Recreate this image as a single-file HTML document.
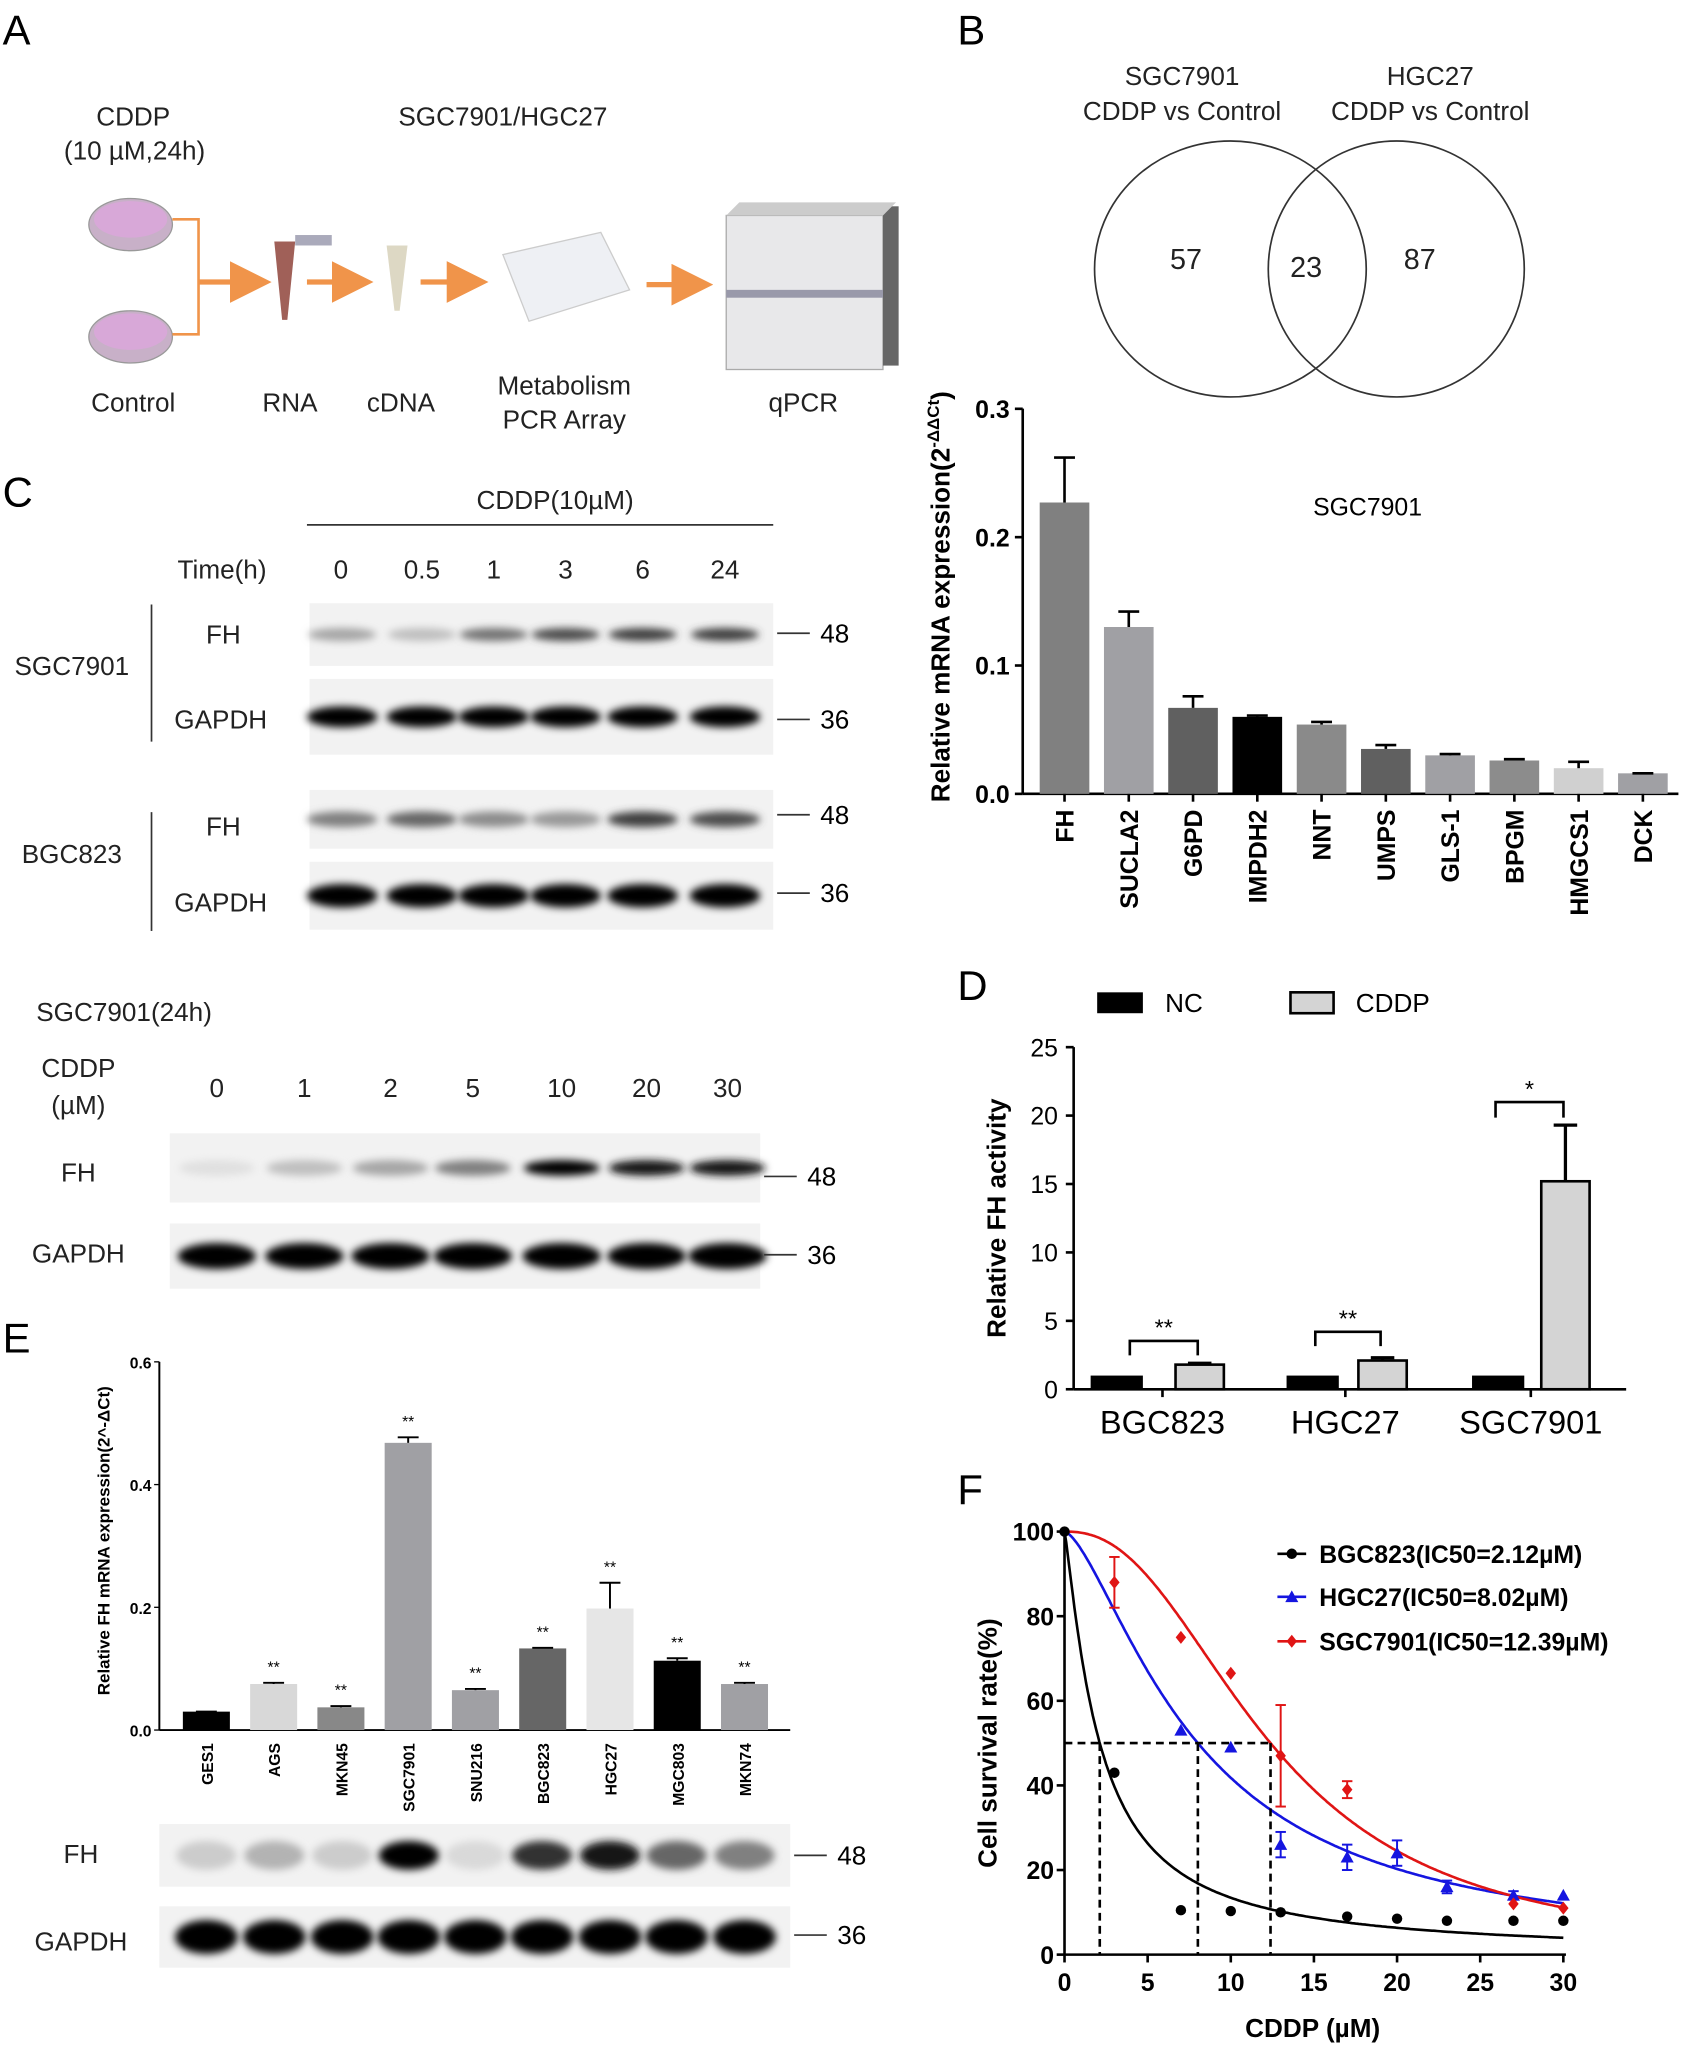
<!DOCTYPE html>
<html><head><meta charset="utf-8">
<style>html,body{margin:0;padding:0;background:#fff}svg{display:block}</style></head>
<body>
<svg id="s" xmlns="http://www.w3.org/2000/svg" width="1698" height="2063" viewBox="0 0 1300 1580" preserveAspectRatio="none" font-family="Liberation Sans, sans-serif">
<defs>
<filter id="bl" x="-20%" y="-100%" width="140%" height="300%"><feGaussianBlur stdDeviation="3"/></filter>
<filter id="bl2" x="-20%" y="-50%" width="140%" height="200%"><feGaussianBlur stdDeviation="1.5"/></filter>
<marker id="ar" markerWidth="8" markerHeight="8" refX="6" refY="4" orient="auto"><path d="M0,0 L8,4 L0,8 z" fill="#f0944a"/></marker>
</defs>
<rect width="1300" height="1580" fill="#fff"/>
<g font-size="32"><text x="2" y="34">A</text><text x="733" y="34">B</text><text x="2" y="388">C</text><text x="733" y="766">D</text><text x="2" y="1036">E</text><text x="733" y="1152">F</text></g>

<!-- Panel A -->
<g font-size="20" text-anchor="middle" fill="#222">
<text x="102" y="96">CDDP</text><text x="103" y="122">(10 µM,24h)</text>
<text x="385" y="96">SGC7901/HGC27</text>
<text x="102" y="315">Control</text><text x="222" y="315">RNA</text><text x="307" y="315">cDNA</text>
<text x="432" y="302">Metabolism</text><text x="432" y="328">PCR Array</text><text x="615" y="315">qPCR</text>
</g>
<g>
<ellipse cx="100" cy="172" rx="32" ry="20" fill="#c8b0c8" stroke="#999"/><ellipse cx="100" cy="168" rx="28" ry="14" fill="#d8a8d8"/>
<ellipse cx="100" cy="258" rx="32" ry="20" fill="#c8b0c8" stroke="#999"/><ellipse cx="100" cy="254" rx="28" ry="14" fill="#d8a8d8"/>
<path d="M132,168 H152 V256 H132" fill="none" stroke="#f0944a" stroke-width="2"/>
<line x1="152" y1="216" x2="200" y2="216" stroke="#f0944a" stroke-width="4" marker-end="url(#ar)"/>
<path d="M210,185 L226,185 L220,245 L216,245 z" fill="#a06058"/><rect x="226" y="180" width="28" height="8" fill="#aab"/>
<line x1="235" y1="216" x2="278" y2="216" stroke="#f0944a" stroke-width="4" marker-end="url(#ar)"/>
<path d="M296,188 L312,188 L306,238 L302,238 z" fill="#ddd8c4"/>
<line x1="322" y1="216" x2="366" y2="216" stroke="#f0944a" stroke-width="4" marker-end="url(#ar)"/>
<path d="M385,195 L460,178 L482,222 L405,246 z" fill="#eef0f4" stroke="#ccc"/>
<line x1="495" y1="218" x2="538" y2="218" stroke="#f0944a" stroke-width="4" marker-end="url(#ar)"/>
<rect x="556" y="165" width="120" height="118" fill="#e8e8ea" stroke="#aaa"/><rect x="676" y="158" width="12" height="122" fill="#666"/>
<path d="M556,165 L566,155 L686,155 L676,165z" fill="#ccc"/><rect x="556" y="222" width="120" height="6" fill="#99a"/>
</g>

<!-- Panel B venn -->
<g font-size="20" text-anchor="middle" fill="#222">
<text x="905" y="65">SGC7901</text><text x="905" y="92">CDDP vs Control</text>
<text x="1095" y="65">HGC27</text><text x="1095" y="92">CDDP vs Control</text>
<text x="908" y="206" font-size="22">57</text><text x="1000" y="212" font-size="22">23</text><text x="1087" y="206" font-size="22">87</text>
</g>
<ellipse cx="942" cy="206" rx="104" ry="98" fill="none" stroke="#333" stroke-width="1.3"/>
<ellipse cx="1069" cy="206" rx="98" ry="98" fill="none" stroke="#333" stroke-width="1.3"/>

<!-- Panel B bars -->
<g id="bB"></g>
<text x="1047" y="395" font-size="19" text-anchor="middle">SGC7901</text>
<text transform="translate(727,457) rotate(-90)" font-size="20" font-weight="bold" text-anchor="middle">Relative mRNA expression(2<tspan dy="-8" font-size="13">-ΔΔCt</tspan><tspan dy="8">)</tspan></text>

<!-- Panel C -->
<g font-size="20" text-anchor="middle" fill="#222">
<text x="425" y="390">CDDP(10µM)</text>
<text x="170" y="443">Time(h)</text>
<text x="261" y="443">0</text><text x="323" y="443">0.5</text><text x="378" y="443">1</text><text x="433" y="443">3</text><text x="492" y="443">6</text><text x="555" y="443">24</text>
<text x="55" y="517">SGC7901</text><text x="171" y="493">FH</text><text x="169" y="558">GAPDH</text>
<text x="55" y="661">BGC823</text><text x="171" y="640">FH</text><text x="169" y="698">GAPDH</text>
<text x="95" y="782">SGC7901(24h)</text><text x="60" y="825">CDDP</text><text x="60" y="853">(µM)</text>
<text x="166" y="840">0</text><text x="233" y="840">1</text><text x="299" y="840">2</text><text x="362" y="840">5</text><text x="430" y="840">10</text><text x="495" y="840">20</text><text x="557" y="840">30</text>
<text x="60" y="905">FH</text><text x="60" y="967">GAPDH</text>
<text x="62" y="1427">FH</text><text x="62" y="1494">GAPDH</text>
</g>
<line x1="235" y1="402" x2="592" y2="402" stroke="#333" stroke-width="1.3"/>
<line x1="116" y1="463" x2="116" y2="568" stroke="#333" stroke-width="1.3"/>
<line x1="116" y1="622" x2="116" y2="713" stroke="#333" stroke-width="1.3"/>
<g id="blots"></g>

<!-- Panel D -->
<rect x="840" y="760" width="35" height="16" fill="#000"/><text x="892" y="775" font-size="20">NC</text>
<rect x="988" y="760" width="33" height="16" fill="#d4d4d4" stroke="#000" stroke-width="2"/><text x="1038" y="775" font-size="20">CDDP</text>
<g id="bD"></g>
<text transform="translate(770,933) rotate(-90)" font-size="20" font-weight="bold" text-anchor="middle">Relative FH activity</text>

<!-- Panel E -->
<g id="bE"></g>
<text transform="translate(84,1180) rotate(-90)" font-size="13" font-weight="bold" text-anchor="middle">Relative FH mRNA expression(2^-ΔCt)</text>

<!-- Panel F -->
<g id="pF"></g>
<text x="1005" y="1560" font-size="20" font-weight="bold" text-anchor="middle">CDDP (µM)</text>
<text transform="translate(763,1335) rotate(-90)" font-size="20" font-weight="bold" text-anchor="middle">Cell survival rate(%)</text>
</svg>
<script>
const NS="http://www.w3.org/2000/svg";
function el(p,t,a,txt){const e=document.createElementNS(NS,t);for(const k in a)e.setAttribute(k,a[k]);if(txt!=null)e.textContent=txt;p.appendChild(e);return e;}
// Panel B bars
(function(){const g=document.getElementById('bB');const x0=783,y0=608,s=983;
el(g,'line',{x1:x0,y1:313,x2:x0,y2:y0,stroke:'#000','stroke-width':2});
el(g,'line',{x1:x0,y1:y0,x2:1285,y2:y0,stroke:'#000','stroke-width':2});
[0,0.1,0.2,0.3].forEach(v=>{const y=y0-v*s;el(g,'line',{x1:x0-6,y1:y,x2:x0,y2:y,stroke:'#000','stroke-width':2});el(g,'text',{x:x0-10,y:y+7,'font-size':19,'font-weight':'bold','text-anchor':'end'},v.toFixed(1));});
const d=[['FH',.227,.262,'#808080'],['SUCLA2',.13,.142,'#a0a0a4'],['G6PD',.067,.076,'#606060'],['IMPDH2',.06,.061,'#000'],['NNT',.054,.056,'#8a8a8a'],['UMPS',.035,.038,'#606060'],['GLS-1',.03,.031,'#a0a0a4'],['BPGM',.026,.027,'#8c8c8c'],['HMGCS1',.02,.025,'#d0d0d0'],['DCK',.016,.016,'#a0a0a4']];
d.forEach((b,i)=>{const cx=815+i*49.2,w=38;el(g,'rect',{x:cx-w/2,y:y0-b[1]*s,width:w,height:b[1]*s,fill:b[3]});
el(g,'line',{x1:cx,y1:y0-b[1]*s,x2:cx,y2:y0-b[2]*s,stroke:'#000','stroke-width':2});el(g,'line',{x1:cx-8,y1:y0-b[2]*s,x2:cx+8,y2:y0-b[2]*s,stroke:'#000','stroke-width':2});
el(g,'line',{x1:cx,y1:y0,x2:cx,y2:y0+6,stroke:'#000','stroke-width':2});
el(g,'text',{transform:`translate(${cx+7},${y0+12}) rotate(-90)`,'font-size':19,'font-weight':'bold','text-anchor':'end'},b[0]);});})();
// blots
(function(){const g=document.getElementById('blots');
function blot(x1,x2,yt,yb,lanes,ints,w,h,mark,my){el(g,'rect',{x:x1,y:yt,width:x2-x1,height:yb-yt,fill:'#f2f2f2'});
const bc=(yt+yb)/2;lanes.forEach((cx,i)=>{const v=ints[i];const c=Math.round(255*(1-v));el(g,'ellipse',{cx:cx,cy:bc,rx:w/2,ry:h/2,fill:`rgb(${c},${c},${c})`,filter:'url(#bl)'});});
el(g,'line',{x1:x2+3,y1:my,x2:x2+28,y2:my,stroke:'#333','stroke-width':1.3});el(g,'text',{x:x2+36,y:my+7,'font-size':20},mark);}
const L1=[262,323,378,433,492,555];
blot(237,592,462,510,L1,[.35,.25,.55,.7,.75,.75],52,10,'48',485);
blot(237,592,520,578,L1,[1,1,1,1,1,1],54,16,'36',551);
blot(237,592,605,650,L1,[.5,.6,.45,.4,.75,.7],54,12,'48',624);
blot(237,592,660,712,L1,[1,1,1,1,1,1],54,18,'36',684);
const L2=[166,233,299,362,430,495,557];
blot(130,582,868,921,L2,[.12,.25,.35,.5,1,.9,.9],58,12,'48',901);
blot(130,582,937,987,L2,[1,1,1,1,1,1,1],60,20,'36',961);
const L3=[158,210,262,313,364,415,467,518,570];
blot(122,605,1397,1445,L3,[.2,.3,.2,1,.15,.8,.9,.6,.5],46,22,'48',1421);
blot(122,605,1460,1507,L3,[1,1,1,1,1,1,1,1,1],48,26,'36',1482);
})();
// Panel D
(function(){const g=document.getElementById('bD');const x0=822,y0=1064,s=10.48;
el(g,'line',{x1:x0,y1:802,x2:x0,y2:y0,stroke:'#000','stroke-width':2});el(g,'line',{x1:x0,y1:y0,x2:1245,y2:y0,stroke:'#000','stroke-width':2});
[0,5,10,15,20,25].forEach(v=>{const y=y0-v*s;el(g,'line',{x1:x0-6,y1:y,x2:x0,y2:y,stroke:'#000','stroke-width':2});el(g,'text',{x:x0-12,y:y+7,'font-size':19,'text-anchor':'end'},v);});
const gr=[['BGC823',890,835,900,1.8,1.9],['HGC27',1030,985,1040,2.1,2.3],['SGC7901',1172,1127,1180,15.2,19.3]];
gr.forEach(b=>{el(g,'rect',{x:b[2],y:y0-s,width:40,height:s,fill:'#000'});
el(g,'rect',{x:b[3],y:y0-b[4]*s,width:37,height:b[4]*s,fill:'#d4d4d4',stroke:'#000','stroke-width':2});
const cx=b[3]+18.5;el(g,'line',{x1:cx,y1:y0-b[4]*s,x2:cx,y2:y0-b[5]*s,stroke:'#000','stroke-width':2.5});el(g,'line',{x1:cx-9,y1:y0-b[5]*s,x2:cx+9,y2:y0-b[5]*s,stroke:'#000','stroke-width':2.5});
el(g,'line',{x1:b[1],y1:y0,x2:b[1],y2:y0+6,stroke:'#000','stroke-width':2});
el(g,'text',{x:b[1],y:1098,'font-size':25,'text-anchor':'middle'},b[0]);});
[[865,917,1027,1038,'**'],[1007,1057,1020,1031,'**'],[1145,1197,844,856,'*']].forEach(k=>{el(g,'path',{d:`M${k[0]},${k[3]} V${k[2]} H${k[1]} V${k[3]}`,fill:'none',stroke:'#000','stroke-width':2});el(g,'text',{x:(k[0]+k[1])/2,y:k[2]-4,'font-size':18,'text-anchor':'middle'},k[4]);});})();
// Panel E
(function(){const g=document.getElementById('bE');const x0=122,y0=1325,s=470;
el(g,'line',{x1:x0,y1:1043,x2:x0,y2:y0,stroke:'#000','stroke-width':1.5});el(g,'line',{x1:x0,y1:y0,x2:605,y2:y0,stroke:'#000','stroke-width':1.5});
[0,.2,.4,.6].forEach(v=>{const y=y0-v*s;el(g,'line',{x1:x0-4,y1:y,x2:x0,y2:y,stroke:'#000'});el(g,'text',{x:x0-6,y:y+5,'font-size':12,'font-weight':'bold','text-anchor':'end'},v.toFixed(1));});
const d=[['GES1',.03,.03,'#000',0],['AGS',.075,.077,'#d8d8d8',1],['MKN45',.037,.039,'#888',1],['SGC7901',.468,.477,'#a0a0a4',1],['SNU216',.065,.067,'#a0a0a4',1],['BGC823',.133,.134,'#666',1],['HGC27',.198,.24,'#e6e6e6',1],['MGC803',.113,.117,'#000',1],['MKN74',.075,.077,'#a0a0a4',1]];
d.forEach((b,i)=>{const cx=158+i*51.5,w=36;el(g,'rect',{x:cx-w/2,y:y0-b[1]*s,width:w,height:b[1]*s,fill:b[3]});
if(b[2]>b[1]+.001){el(g,'line',{x1:cx,y1:y0-b[1]*s,x2:cx,y2:y0-b[2]*s,stroke:'#000','stroke-width':1.5});}
el(g,'line',{x1:cx-8,y1:y0-b[2]*s,x2:cx+8,y2:y0-b[2]*s,stroke:'#000','stroke-width':1.5});
if(b[4])el(g,'text',{x:cx,y:y0-b[2]*s-8,'font-size':12,'text-anchor':'middle'},'**');
el(g,'text',{transform:`translate(${cx+5},${y0+10}) rotate(-90)`,'font-size':12,'font-weight':'bold','text-anchor':'end'},b[0]);});})();
// Panel F
(function(){const g=document.getElementById('pF');const x0=815,y0=1497,sx=12.73,sy=3.24;
const X=v=>x0+v*sx,Y=v=>y0-v*sy;
el(g,'line',{x1:x0,y1:1170,x2:x0,y2:y0,stroke:'#000','stroke-width':2});el(g,'line',{x1:x0,y1:y0,x2:X(30)+2,y2:y0,stroke:'#000','stroke-width':2});
[0,20,40,60,80,100].forEach(v=>{el(g,'line',{x1:x0-6,y1:Y(v),x2:x0,y2:Y(v),stroke:'#000','stroke-width':2});el(g,'text',{x:x0-8,y:Y(v)+7,'font-size':19,'font-weight':'bold','text-anchor':'end'},v);});
[0,5,10,15,20,25,30].forEach(v=>{el(g,'line',{x1:X(v),y1:y0,x2:X(v),y2:y0+6,stroke:'#000','stroke-width':2});el(g,'text',{x:X(v),y:y0+28,'font-size':19,'font-weight':'bold','text-anchor':'middle'},v);});
const cs=[[2.12,1.2,'#000'],[8.02,1.5,'#1515e0'],[12.39,2.35,'#e01515']];
cs.forEach(c=>{let d='';for(let i=0;i<=300;i++){const x=i/10;const y=100/(1+Math.pow(x/c[0],c[1]));d+=(i?'L':'M')+X(x).toFixed(1)+','+Y(y).toFixed(1);}el(g,'path',{d:d,fill:'none',stroke:c[2],'stroke-width':2});});
el(g,'line',{x1:x0,y1:Y(50),x2:X(12.39),y2:Y(50),stroke:'#000','stroke-width':2,'stroke-dasharray':'6,4'});
[2.12,8.02,12.39].forEach(v=>el(g,'line',{x1:X(v),y1:Y(50),x2:X(v),y2:y0,stroke:'#000','stroke-width':2,'stroke-dasharray':'6,4'}));
const bk=[[0,100],[3,43],[7,10.5],[10,10.3],[13,10],[17,9],[20,8.5],[23,8],[27,8],[30,8]];
bk.forEach(p=>el(g,'circle',{cx:X(p[0]),cy:Y(p[1]),r:4,fill:'#000'}));
const bl=[[7,53,0],[10,49,0],[13,26,3],[17,23,3],[20,24,3],[23,16,1.5],[27,14,1],[30,14,0]];
const tri=(x,y,c)=>el(g,'path',{d:`M${x},${y-5} L${x+5},${y+4} L${x-5},${y+4}z`,fill:c});
const eb=(x,y,e,c)=>{if(!e)return;el(g,'line',{x1:x,y1:Y(y+e),x2:x,y2:Y(y-e),stroke:c,'stroke-width':1.5});[y+e,y-e].forEach(v=>el(g,'line',{x1:x-4,y1:Y(v),x2:x+4,y2:Y(v),stroke:c,'stroke-width':1.5}));};
bl.forEach(p=>{eb(X(p[0]),p[1],p[2],'#1515e0');tri(X(p[0]),Y(p[1]),'#1515e0');});
const rd=[[3,88,6],[7,75,0],[10,66.5,0],[13,47,12],[17,39,2],[27,12,0],[30,11,0]];
const dia=(x,y,c)=>el(g,'path',{d:`M${x},${y-5} L${x+4},${y} L${x},${y+5} L${x-4},${y}z`,fill:c});
rd.forEach(p=>{eb(X(p[0]),p[1],p[2],'#e01515');dia(X(p[0]),Y(p[1]),'#e01515');});
const lg=[[1190,'BGC823(IC50=2.12µM)','#000','c'],[1223,'HGC27(IC50=8.02µM)','#1515e0','t'],[1257,'SGC7901(IC50=12.39µM)','#e01515','d']];
lg.forEach(l=>{el(g,'line',{x1:978,y1:l[0],x2:1000,y2:l[0],stroke:l[2],'stroke-width':2});if(l[3]=='c')el(g,'circle',{cx:989,cy:l[0],r:4,fill:l[2]});else if(l[3]=='t')tri(989,l[0],l[2]);else dia(989,l[0],l[2]);
el(g,'text',{x:1010,y:l[0]+7,'font-size':19,'font-weight':'bold'},l[1]);});})();
</script>
</body></html>
